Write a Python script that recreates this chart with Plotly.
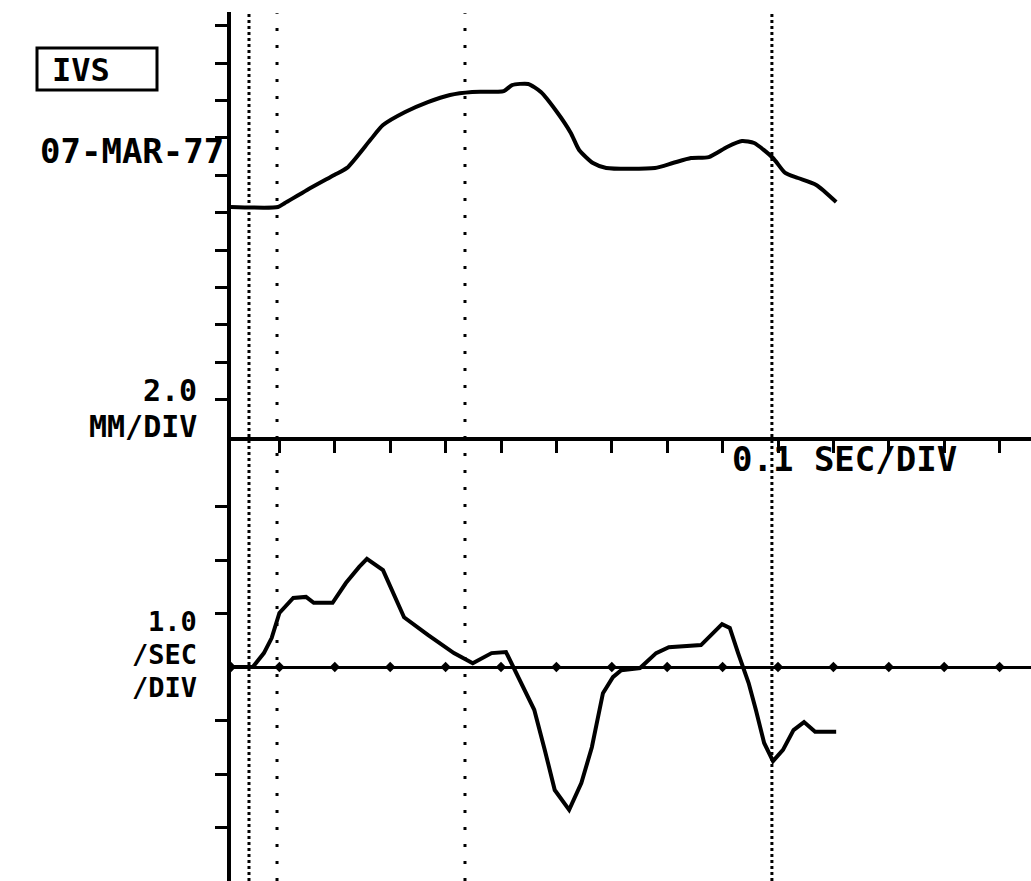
import plotly.graph_objects as go

# ---------------- data ----------------
# Upper panel: IVS position (mm), time in seconds
pos_time = [0.0126, 0.0975, 0.110, 0.150, 0.199, 0.222, 0.264, 0.287, 0.327, 0.368,
            0.408, 0.448, 0.505, 0.520, 0.549, 0.572, 0.601, 0.626, 0.641, 0.666,
            0.690, 0.778, 0.810, 0.843, 0.875, 0.908, 0.935, 0.957, 0.991, 1.013,
            1.036, 1.069, 1.105]
pos_mm = [12.30, 12.30, 12.51, 13.21, 14.01, 14.39, 15.88, 16.68, 17.38, 17.91,
          18.29, 18.45, 18.50, 18.82, 18.88, 18.45, 17.38, 16.26, 15.35, 14.65,
          14.39, 14.39, 14.65, 14.92, 14.97, 15.51, 15.83, 15.72, 14.92, 14.12,
          13.85, 13.48, 12.57]

# Lower panel: normalised velocity (/sec)
vel_time = [0.0126, 0.052, 0.072, 0.086, 0.100, 0.125, 0.148, 0.162, 0.196, 0.220,
            0.244, 0.258, 0.287, 0.325, 0.368, 0.415, 0.449, 0.483, 0.509, 0.525,
            0.540, 0.560, 0.579, 0.597, 0.623, 0.645, 0.664, 0.684, 0.702, 0.717,
            0.751, 0.780, 0.803, 0.861, 0.899, 0.913, 0.928, 0.947, 0.960, 0.975,
            0.991, 1.009, 1.028, 1.047, 1.067, 1.105]
vel_val = [0.00, 0.00, 0.26, 0.54, 1.01, 1.29, 1.31, 1.20, 1.20, 1.57,
           1.87, 2.02, 1.81, 0.93, 0.60, 0.26, 0.07, 0.26, 0.28, -0.06,
           -0.37, -0.80, -1.55, -2.30, -2.67, -2.17, -1.50, -0.49, -0.19, -0.06,
           -0.02, 0.26, 0.37, 0.41, 0.80, 0.73, 0.26, -0.30, -0.80, -1.42,
           -1.76, -1.55, -1.18, -1.03, -1.21, -1.21]

# Event markers (dotted vertical lines), seconds
dense_events = [0.0451, 0.989]
sparse_events = [0.0957, 0.435]

# Time ticks (0.1 sec/div)
tick_times = [0.0126, 0.1, 0.2, 0.3, 0.4, 0.5, 0.6, 0.7, 0.8, 0.9, 1.0, 1.1, 1.2, 1.3, 1.4]
pos_ticks = [2, 4, 6, 8, 10, 12, 14, 16, 18, 20, 22]
vel_ticks = [-3, -2, -1, 1, 2, 3]

W, H = 1031, 881
FONT = "DejaVu Sans Mono"

fig = go.Figure()

fig.add_trace(go.Scatter(x=pos_time, y=pos_mm, mode="lines",
                         line=dict(color="black", width=4, shape="spline", smoothing=0.6),
                         xaxis="x", yaxis="y", showlegend=False, hoverinfo="skip"))
fig.add_trace(go.Scatter(x=vel_time, y=vel_val, mode="lines",
                         line=dict(color="black", width=4), xaxis="x", yaxis="y2",
                         showlegend=False, hoverinfo="skip"))
fig.add_trace(go.Scatter(x=tick_times, y=[0] * len(tick_times), mode="markers",
                         marker=dict(symbol="diamond", size=8, color="black"),
                         xaxis="x", yaxis="y2", showlegend=False, hoverinfo="skip"))

shapes = []
for t in dense_events:
    shapes.append(dict(type="line", xref="x", yref="paper", x0=t, x1=t, y0=0, y1=0.985,
                       line=dict(color="black", width=3, dash="3px,3px"), layer="below"))
for t in sparse_events:
    shapes.append(dict(type="line", xref="x", yref="paper", x0=t, x1=t, y0=0, y1=0.985,
                       line=dict(color="black", width=3, dash="3px,14px"), layer="below"))
# IVS label box
shapes.append(dict(type="rect", xref="paper", yref="paper",
                   x0=37 / W, x1=157 / W, y0=1 - 90 / H, y1=1 - 48 / H,
                   line=dict(color="black", width=3)))

def ann(text, px, py, xanchor="right", size=30):
    return dict(text=text, x=px / W, y=1 - py / H, xref="paper", yref="paper",
                xanchor=xanchor, yanchor="middle", showarrow=False,
                font=dict(family=FONT, size=size, color="black", weight="bold"))

annotations = [
    ann("IVS", 50, 70, xanchor="left", size=32),
    ann("07-MAR-77", 226, 151, size=34),
    ann("2.0", 199, 391, size=30),
    ann("MM/DIV", 199, 426, size=30),
    ann("0.1 SEC/DIV", 844, 459, xanchor="center", size=34),
    ann("1.0", 199, 621, size=27),
    ann("/SEC", 199, 654, size=27),
    ann("/DIV", 199, 687, size=27),
]

x0_px = 224
sec_per_px = 0.1 / 55.4
fig.update_layout(
    width=W, height=H,
    margin=dict(l=0, r=0, t=0, b=0),
    paper_bgcolor="white", plot_bgcolor="white",
    shapes=shapes, annotations=annotations,
    xaxis=dict(domain=[231 / W, 1], range=[(231 - x0_px) * sec_per_px, (W - x0_px) * sec_per_px],
               anchor="y", showline=True, linewidth=4, linecolor="black",
               ticks="outside", ticklen=12, tickwidth=3, tickcolor="black",
               tick0=0, dtick=0.1, showticklabels=False, showgrid=False, zeroline=False),
    yaxis=dict(domain=[1 - 437 / H, 1 - 12 / H], range=[0, (437 - 12) / 37.4 * 2],
               anchor="x", showline=True, linewidth=4, linecolor="black",
               ticks="outside", ticklen=12, tickwidth=3, tickcolor="black",
               tickvals=pos_ticks, showticklabels=False, showgrid=False, zeroline=False),
    yaxis2=dict(domain=[0, 1 - 437 / H], range=[(667 - 881) / 53.5, (667 - 437) / 53.5],
                anchor="x", showline=True, linewidth=4, linecolor="black",
                ticks="outside", ticklen=12, tickwidth=3, tickcolor="black",
                tickvals=vel_ticks, showticklabels=False, showgrid=False,
                zeroline=True, zerolinewidth=3, zerolinecolor="black"),
)

fig.write_html("out.html", config={"displayModeBar": False},
               post_script="document.body.style.margin='0';document.body.style.overflow='hidden';")
